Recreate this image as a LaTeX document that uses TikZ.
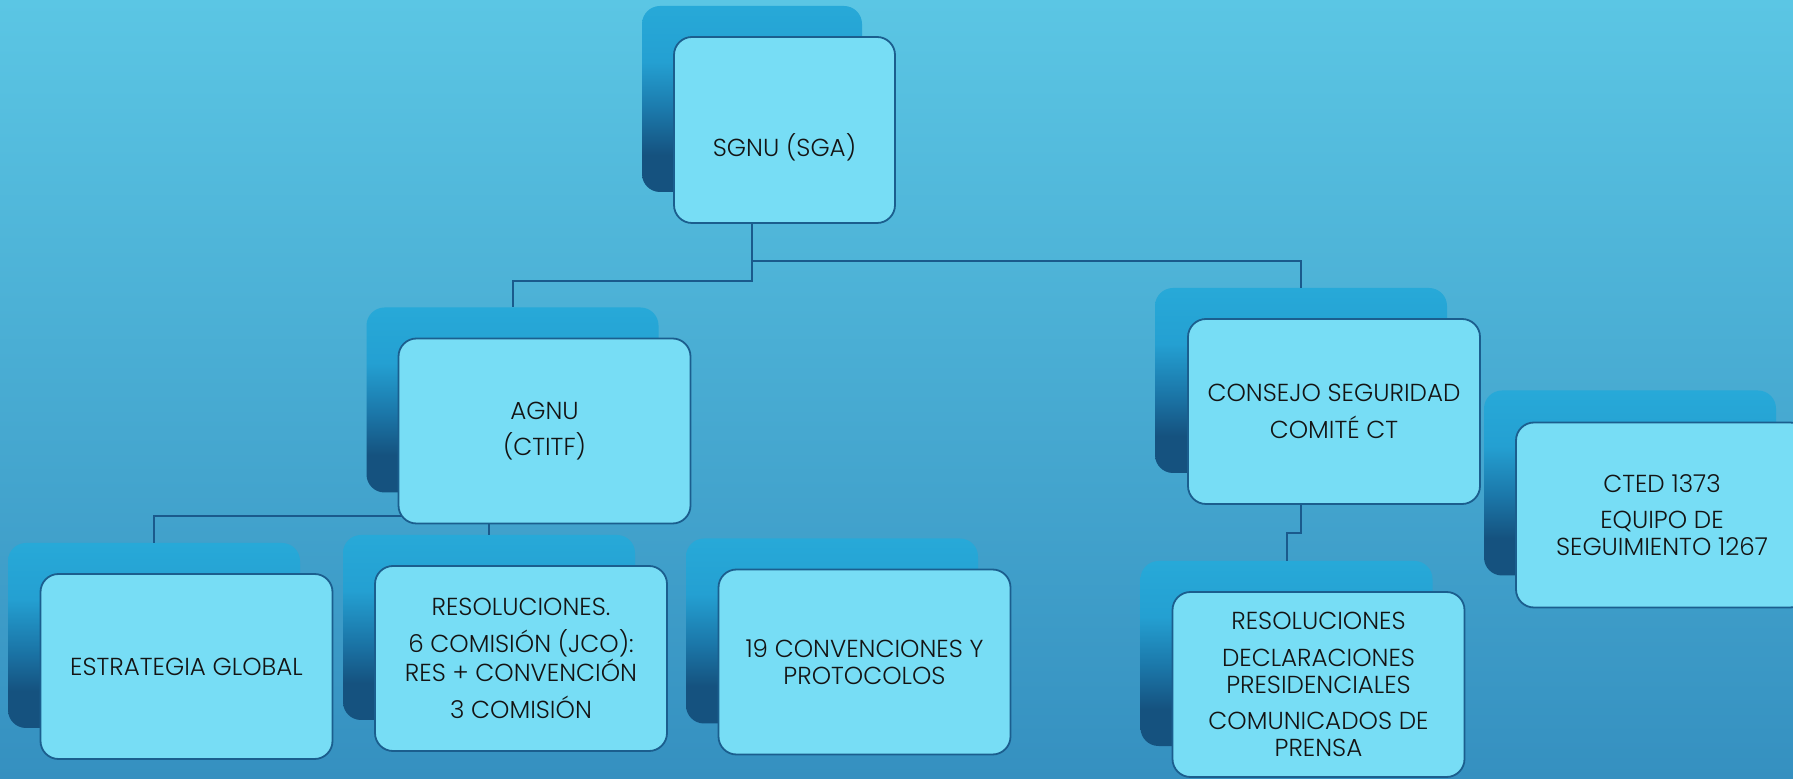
\documentclass[tikz,border=0pt]{standalone}
\usepackage{fontspec}
\setmainfont{Poppins}[UprightFont={* Light}]
\usetikzlibrary{calc}
\definecolor{bgtop}{HTML}{5BC6E4}
\definecolor{bgbot}{HTML}{3590C0}
\definecolor{bkA}{HTML}{27A9D8}
\definecolor{bkB}{HTML}{24A0D2}
\definecolor{bkC}{HTML}{1B77A9}
\definecolor{bkD}{HTML}{15527F}
\definecolor{frontfill}{HTML}{77DDF5}
\definecolor{edge}{HTML}{1B5E8E}
\definecolor{linecol}{HTML}{1A5A8C}
\definecolor{txt}{HTML}{141414}
\pgfdeclareverticalshading{backshade}{100bp}{color(0bp)=(bkD); color(25bp)=(bkD); color(35bp)=(bkD); color(46.5bp)=(bkC); color(60bp)=(bkB); color(75bp)=(bkA); color(100bp)=(bkA)}
\pgfdeclareverticalshading{bgshade}{100bp}{color(0bp)=(bgbot); color(25bp)=(bgbot); color(75bp)=(bgtop); color(100bp)=(bgtop)}
\tikzset{
  backbox/.style={rectangle, rounded corners=9pt, shading=backshade, draw=none,
    minimum width=146pt, minimum height=92.5pt, inner sep=0pt},
  frontbox/.style={rectangle, rounded corners=9pt, fill=frontfill, draw=edge, line width=0.9pt,
    minimum width=146pt, minimum height=92.5pt, inner sep=2pt, align=center,
    text=txt, font=\fontsize{12.3}{13.3}\selectfont},
  conn/.style={draw=linecol, line width=1pt},
}
\begin{document}
\begin{tikzpicture}[x=0.5pt, y=-0.5pt]
\clip (0,0) rectangle (1793,779);
\shade[shading=bgshade] (0,0) rectangle (1793,779);
% back boxes
\node[backbox, minimum width=110pt, minimum height=93pt] (sgnub) at (752,99) {};
\node[backbox] (agnub) at (512.5,400) {};
\node[backbox] (estrb) at (154,635.5) {};
\node[backbox] (resab) at (489,627.5) {};
\node[backbox] (convb) at (832,631) {};
\node[backbox] (consb) at (1301,380.5) {};
\node[backbox] (resbb) at (1286.5,653.5) {};
\node[backbox] (ctedb) at (1630,483) {};
% connectors
\draw[conn] (sgnub.south) -- (sgnub.south |- 0,281) -| (agnub.north);
\draw[conn] (sgnub.south) -- (sgnub.south |- 0,261) -| (consb.north);
\draw[conn] (agnub.south) -- (agnub.south |- 0,516) -| (estrb.north);
\draw[conn] (agnub.south |- 0,516) -| (resab.north);
\draw[conn] (consb.south) -- (consb.south |- 0,533) -| (resbb.north);
% front boxes
\node[frontbox, minimum width=110.5pt, minimum height=93pt,
  label={[text=txt, font=\fontsize{12.3}{13.3}\selectfont, yshift=-8.75pt]center:SGNU (SGA)}]
  (sgnu) at ([shift={(32.5,31)}]sgnub.center) {};
\node[frontbox] (agnu) at ([shift={(32,31)}]agnub.center) {AGNU\\[5pt](CTITF)};
\node[frontbox] (estr) at ([shift={(32.5,31)}]estrb.center) {ESTRATEGIA GLOBAL};
\node[frontbox] (resa) at ([shift={(32,31)}]resab.center) {RESOLUCIONES.\\[5pt]6 COMISIÓN (JCO):\\RES + CONVENCIÓN\\[5pt]3 COMISIÓN};
\node[frontbox] (conv) at ([shift={(32.5,31)}]convb.center) {19 CONVENCIONES Y\\PROTOCOLOS};
\node[frontbox] (cons) at ([shift={(33,31)}]consb.center) {CONSEJO SEGURIDAD\\[5pt]COMITÉ CT};
\node[frontbox] (resb) at ([shift={(32,31)}]resbb.center) {RESOLUCIONES\\[5pt]DECLARACIONES\\PRESIDENCIALES\\[5pt]COMUNICADOS DE\\PRENSA};
\node[frontbox] (cted) at ([shift={(32,32)}]ctedb.center) {CTED 1373\\[5pt]EQUIPO DE\\SEGUIMIENTO 1267};
\end{tikzpicture}
\end{document}
